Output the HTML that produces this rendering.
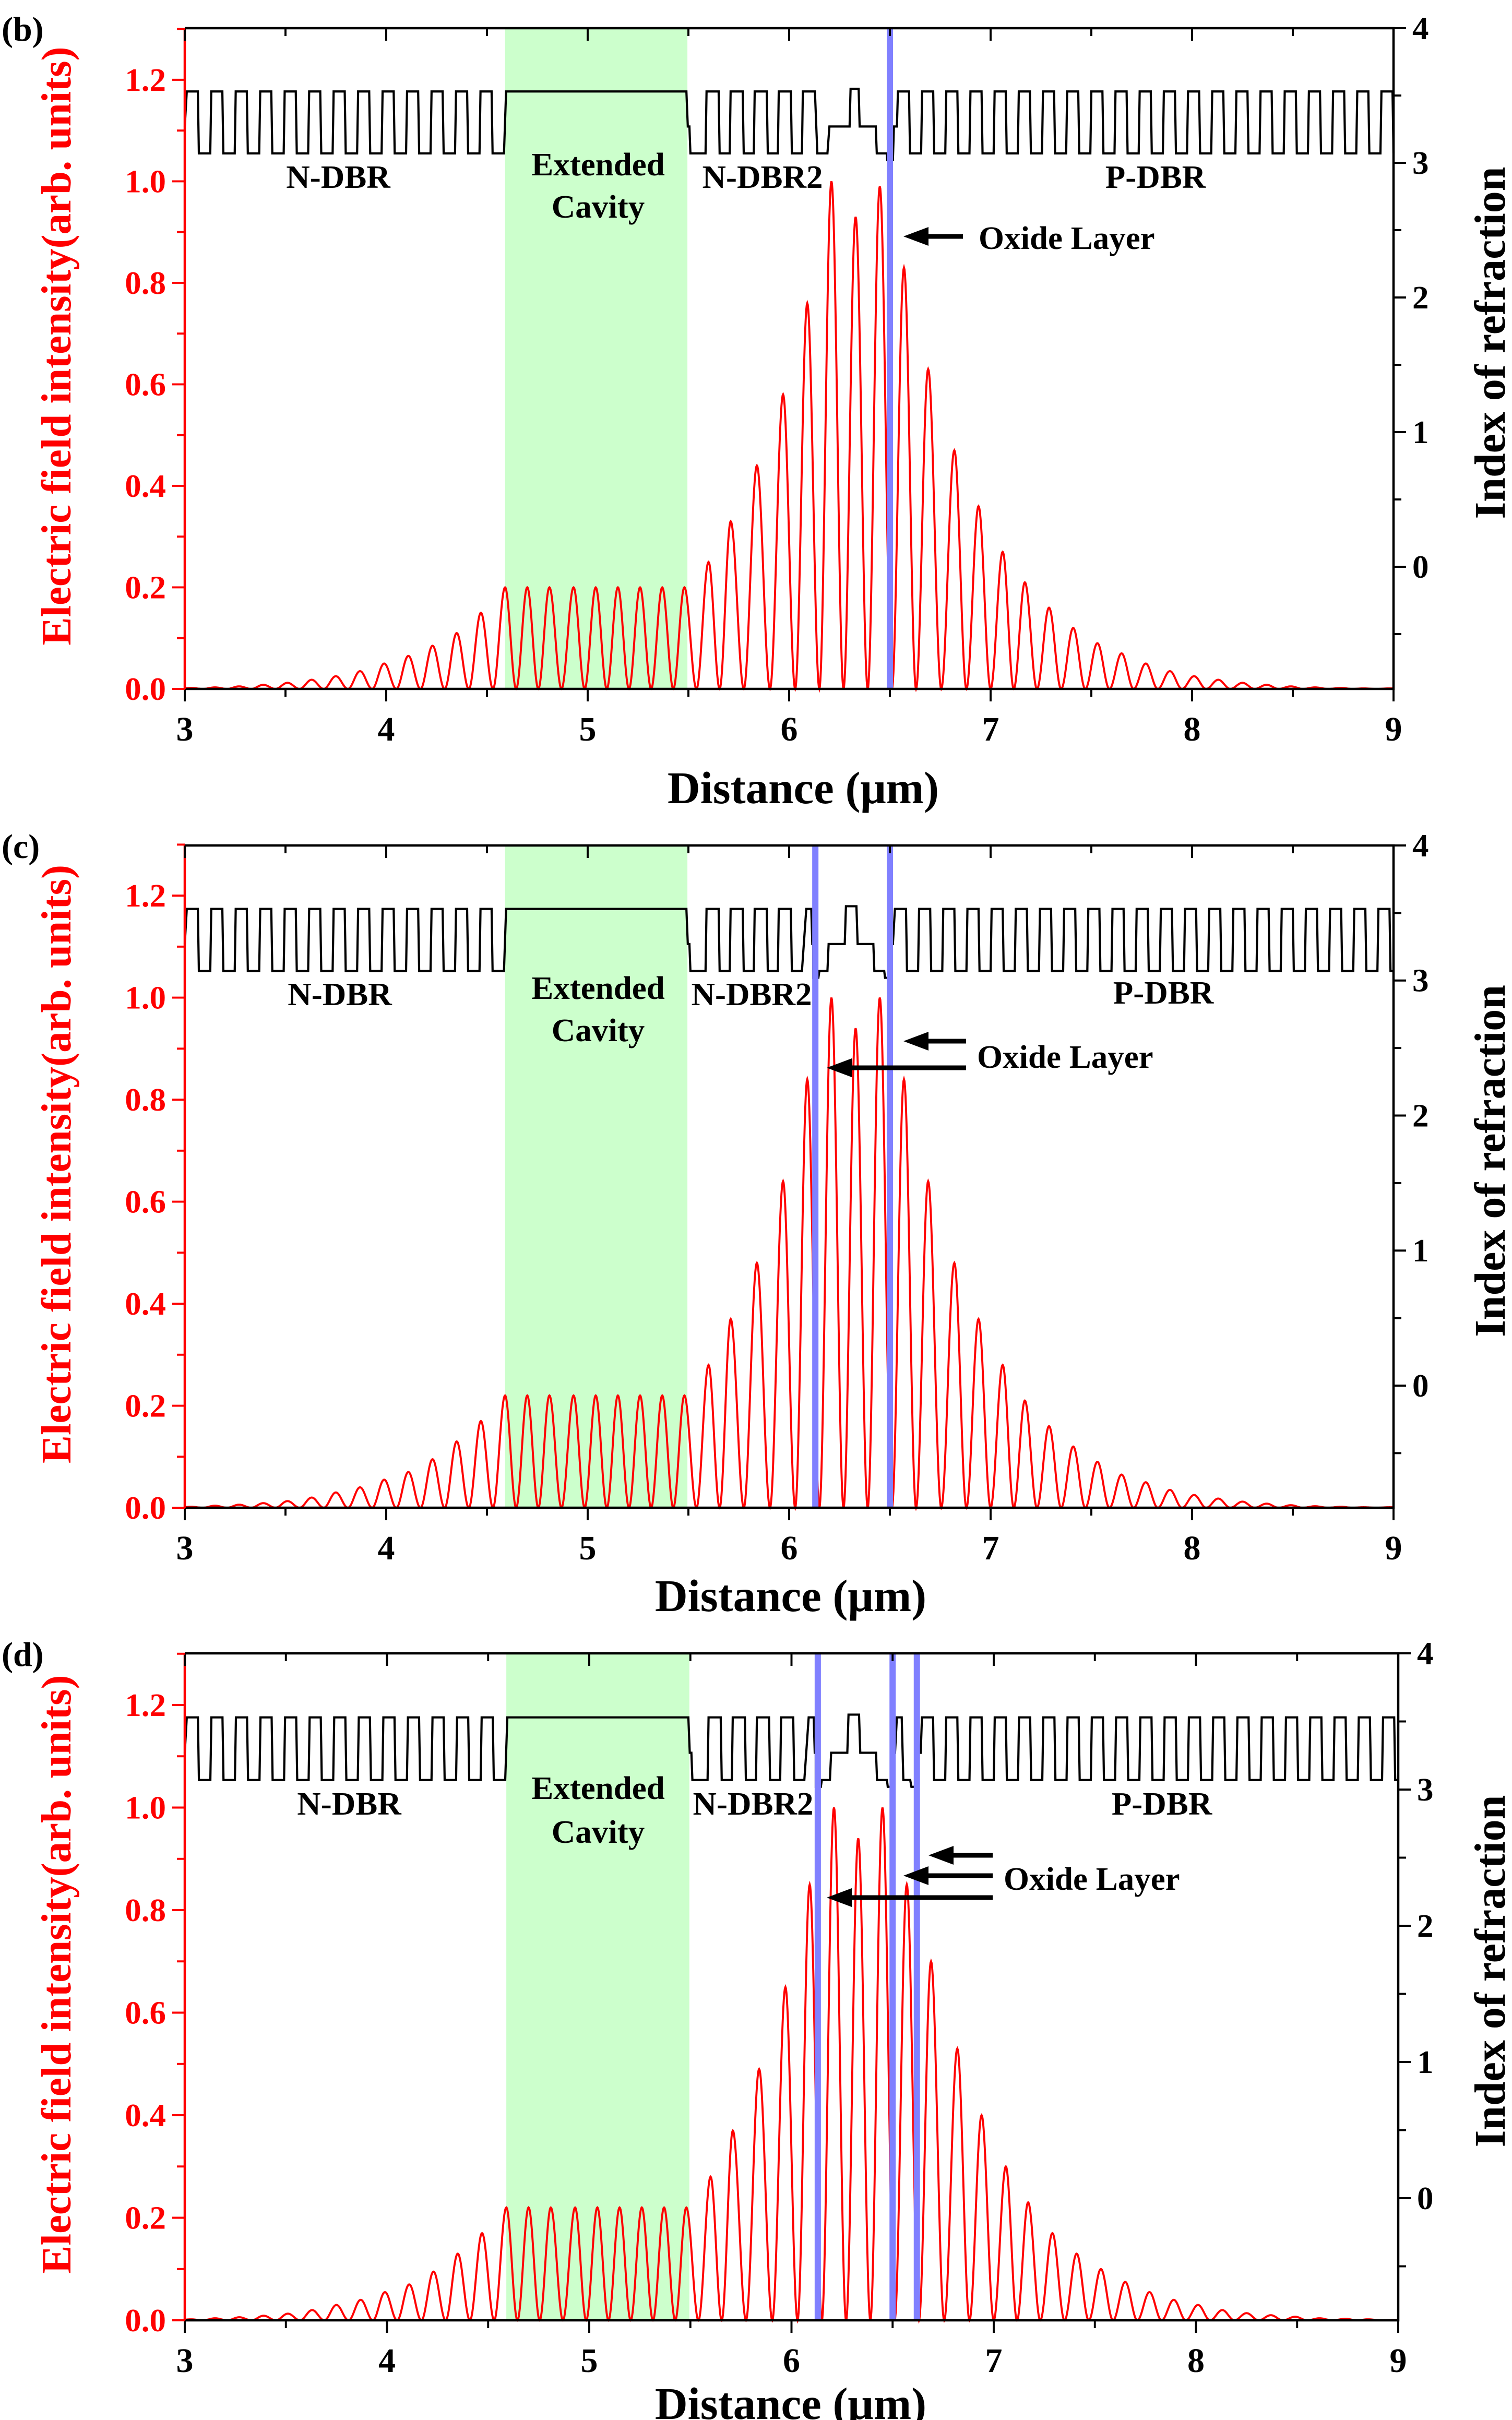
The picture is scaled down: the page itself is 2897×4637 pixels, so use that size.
<!DOCTYPE html>
<html><head><meta charset="utf-8">
<style>
html,body{margin:0;padding:0;background:#fff;}
svg{display:block;}
text{font-family:"Liberation Serif",serif;font-weight:bold;}
</style></head>
<body>
<svg id="fig" xmlns="http://www.w3.org/2000/svg" width="2897" height="4637" viewBox="0 0 965.667 1545.667"></svg>
<script>
// ---------- DATA ----------
const xTicks = [3,4,5,6,7,8,9];
const yTicks = [0.0,0.2,0.4,0.6,0.8,1.0,1.2];
const rTicks = [0,1,2,3,4];
const panelLabels = ["(b)","(c)","(d)"];
const peakX = [3.03,3.15,3.27,3.39,3.51,3.63,3.75,3.87,3.99,4.11,4.23,4.35,4.47,4.59,4.70,4.81,4.93,5.04,5.15,5.26,5.37,5.48,5.60,5.71,5.84,5.97,6.09,6.21,6.33,6.45,6.57,6.69,6.82,6.94,7.06,7.17,7.29,7.41,7.53,7.65,7.77,7.89,8.01,8.13,8.25,8.37,8.49,8.61,8.74,8.85,8.98];
const peakYb = [0.002,0.003,0.005,0.008,0.012,0.018,0.025,0.035,0.05,0.065,0.085,0.11,0.15,0.2,0.2,0.2,0.2,0.2,0.2,0.2,0.2,0.2,0.25,0.33,0.44,0.58,0.76,1.0,0.93,0.99,0.83,0.63,0.47,0.36,0.27,0.21,0.16,0.12,0.09,0.07,0.05,0.035,0.025,0.018,0.012,0.008,0.005,0.003,0.002,0.001,0.001];
const peakYc = [0.002,0.004,0.006,0.009,0.013,0.02,0.03,0.04,0.055,0.07,0.095,0.13,0.17,0.22,0.22,0.22,0.22,0.22,0.22,0.22,0.22,0.22,0.28,0.37,0.48,0.64,0.84,1.0,0.94,1.0,0.84,0.64,0.48,0.37,0.28,0.21,0.16,0.12,0.09,0.065,0.05,0.035,0.025,0.018,0.012,0.008,0.005,0.003,0.002,0.001,0.001];
const peakYd = [0.002,0.004,0.006,0.009,0.013,0.02,0.03,0.04,0.055,0.07,0.095,0.13,0.17,0.22,0.22,0.22,0.22,0.22,0.22,0.22,0.22,0.22,0.28,0.37,0.49,0.65,0.85,1.0,0.94,1.0,0.85,0.70,0.53,0.40,0.30,0.23,0.17,0.13,0.10,0.075,0.055,0.04,0.03,0.02,0.014,0.01,0.007,0.004,0.003,0.002,0.001];
const oxideB = [6.50];
const oxideC = [6.13,6.50];
const oxideD = [6.13,6.50,6.62];
const nHigh=3.53, nLow=3.07, nMid=3.27, nBump=3.55, nDip=3.02;
const activeB = [[6.14,6.19,nLow],[6.20,6.30,nMid],[6.305,6.345,nBump],[6.35,6.43,nMid],[6.435,6.485,nLow],[6.487,6.515,nDip],[6.52,6.535,nMid]];
const activeC = [[6.085,6.11,nHigh],[6.115,6.12,nMid],[6.12,6.145,nDip],[6.15,6.19,nLow],[6.196,6.276,nMid],[6.282,6.334,nBump],[6.34,6.418,nMid],[6.423,6.472,nLow],[6.476,6.50,nDip],[6.502,6.515,nMid]];
const activeD = [[6.085,6.11,nHigh],[6.115,6.12,nMid],[6.12,6.145,nDip],[6.15,6.19,nLow],[6.196,6.276,nMid],[6.282,6.334,nBump],[6.34,6.418,nMid],[6.423,6.472,nLow],[6.476,6.50,nDip],[6.502,6.512,nMid],[6.521,6.545,nHigh],[6.553,6.587,nLow],[6.593,6.622,nDip],[6.625,6.639,nMid]];
const pdbrStart = [6.54,6.525,6.645];
const ndbr2Highs = [5,5,5];

const panels = [
 {top:18,bottom:440,x0:118,x1:890,ky:324.2,r0:362,kr:86,peaks:peakYb,ox:oxideB,act:activeB,
  labels:[["N-DBR",216,120],["N-DBR2",487,120],["P-DBR",738,120]],ext:[382,112,139],oxT:[625,159],arrows:[[615,577,151]],xtitle:[513,513]},
 {top:540,bottom:963,x0:118,x1:890,ky:325.8,r0:885,kr:86.25,peaks:peakYc,ox:oxideC,act:activeC,
  labels:[["N-DBR",217,642],["N-DBR2",480,642],["P-DBR",743,641]],ext:[382,638,665],oxT:[624,682],arrows:[[617,577,665],[617,528,682]],xtitle:[505,1029]},
 {top:1056,bottom:1482,x0:118,x1:893,ky:327.5,r0:1404,kr:87,peaks:peakYd,ox:oxideD,act:activeD,
  labels:[["N-DBR",223,1159],["N-DBR2",481,1159],["P-DBR",742,1159]],ext:[382,1149,1177],oxT:[641,1207],arrows:[[634,593,1185],[634,577,1198],[634,528,1212]],xtitle:[505,1545]}
];
const NS="http://www.w3.org/2000/svg";
const svg=document.getElementById('fig');
function el(tag,attrs,parent){const e=document.createElementNS(NS,tag);for(const k in attrs)e.setAttribute(k,attrs[k]);(parent||svg).appendChild(e);return e;}

panels.forEach((P,pi)=>{
 const g=el('g',{});
 
 
 const X=v=>P.x0+(v-3)*(P.x1-P.x0)/6;
 const Y=v=>P.bottom-v*P.ky;
 const R=v=>P.r0-v*P.kr;
 const cav=el('rect',{x:X(4.59),y:P.top,width:X(5.495)-X(4.59),height:P.bottom-P.top,fill:'#ccffcc'},g);
 
 
 let pts=[];
 const px=peakX, py=P.peaks;
 for(let i=0;i<px.length;i++){
  const a=i>0?(px[i-1]+px[i])/2:px[i]-(px[i+1]-px[i])/2;
  const b=i<px.length-1?(px[i]+px[i+1])/2:px[i]+(px[i]-px[i-1])/2;
  for(let k=0;k<=24;k++){const x=a+(px[i]-a)*k/24;const t=(x-px[i])/(px[i]-a);pts.push([x,py[i]*Math.pow(Math.cos(Math.PI/2*t),2)]);}
  for(let k=1;k<=24;k++){const x=px[i]+(b-px[i])*k/24;const t=(x-px[i])/(b-px[i]);pts.push([x,py[i]*Math.pow(Math.cos(Math.PI/2*t),2)]);}
 }
 pts=pts.filter(p=>p[0]>=3&&p[0]<=9);
 const fl=el('path',{d:'M'+pts.map(p=>X(p[0]).toFixed(2)+','+Y(p[1]).toFixed(2)).join('L'),fill:'none',stroke:'#ff0000','stroke-width':1.3},g);
 
 
 const layers=[];
 let s=3.01;
 for(let i=0;i<13;i++){layers.push([s,s+0.055,nHigh]);layers.push([s+0.06,s+0.1165,nLow]);s+=0.1215;}
 layers.push([4.595,5.49,nHigh]);
 layers.push([5.497,5.505,nMid]);layers.push([5.51,5.585,nLow]);
 s=5.59;
 for(let i=0;i<ndbr2Highs[pi];i++){ if(pi>0&&i===ndbr2Highs[pi]-1)break; layers.push([s,s+0.06,nHigh]); if(i<ndbr2Highs[pi]-1) layers.push([s+0.065,s+0.115,nLow]); s+=0.1195;}
 P.act.forEach(l=>layers.push(l));
 s=pdbrStart[pi];
 while(s<9){layers.push([s,Math.min(s+0.055,9),nHigh]); if(s+0.06<9)layers.push([s+0.06,Math.min(s+0.115,9),nLow]); s+=0.12;}
 const lv=[[3.0,nMid]];
 layers.forEach(l=>{if(l[1]>l[0]){lv.push([l[0],l[2]]);lv.push([l[1],l[2]]);}});
 const ip=el('path',{d:'M'+lv.map(p=>X(p[0]).toFixed(2)+','+R(p[1]).toFixed(2)).join('L'),fill:'none',stroke:'#000','stroke-width':1.4},g);
 
 
 P.ox.forEach(o=>{const ln=el('line',{x1:X(o),x2:X(o),y1:P.top,y2:P.bottom,stroke:'#8080ff','stroke-width':4},g);
  
  });
 const fr=el('path',{d:`M${P.x0},${P.bottom}H${P.x1}V${P.top}H${P.x0}`,fill:'none',stroke:'#000','stroke-width':1.5},g);
 
 
 const la=el('line',{x1:P.x0,x2:P.x0,y1:P.top,y2:P.bottom,stroke:'#ff0000','stroke-width':1.5},g);
 
 
 for(let v=3;v<=9.001;v+=0.5){const major=Math.abs(v-Math.round(v))<0.01;const L=major?8:5;
  el('line',{x1:X(v),x2:X(v),y1:P.bottom,y2:P.bottom+L,stroke:'#000','stroke-width':1.3},g);
  el('line',{x1:X(v),x2:X(v),y1:P.top,y2:P.top+L,stroke:'#000','stroke-width':1.3},g);}
 xTicks.forEach(v=>{const t=el('text',{x:X(v),y:P.bottom+33,'font-size':22,'text-anchor':'middle'},g);t.textContent=v;
  
  });
 for(let i=0;i<=13;i++){const v=i*0.1;const L=i%2===0?8:5;el('line',{x1:P.x0-L,x2:P.x0,y1:Y(v),y2:Y(v),stroke:'#ff0000','stroke-width':1.3},g);}
 yTicks.forEach(v=>{const t=el('text',{x:P.x0-12,y:Y(v)+7,'font-size':21,'text-anchor':'end',fill:'#ff0000'},g);t.textContent=v.toFixed(1);
  
  });
 for(let i=-1;i<=8;i++){const v=i*0.5;if(R(v)>P.bottom)continue;const L=i%2===0?8:5;el('line',{x1:P.x1,x2:P.x1+L,y1:R(v),y2:R(v),stroke:'#000','stroke-width':1.3},g);}
 rTicks.forEach(v=>{const t=el('text',{x:P.x1+12,y:R(v)+7,'font-size':21,'text-anchor':'start'},g);t.textContent=v;
  
  });
 const cy=(P.top+P.bottom)/2;
 const yt=el('text',{x:0,y:0,'font-size':27,'text-anchor':'middle',fill:'#ff0000',transform:`translate(45,${cy-8}) rotate(-90)`},g);
 yt.textContent='Electric field intensity(arb. units)';
 
 
 const rt=el('text',{x:0,y:0,'font-size':28,'text-anchor':'middle',transform:`translate(961,${cy-10}) rotate(-90)`},g);
 rt.textContent='Index of refraction';
 
 
 const xt=el('text',{x:P.xtitle[0],y:P.xtitle[1],'font-size':29,'text-anchor':'middle'},g);
 xt.textContent='Distance (\u03bcm)';
 
 
 const pl=el('text',{x:1,y:P.top+8,'font-size':22},g);
 pl.textContent=panelLabels[pi];
 
 
 P.labels.forEach(L=>{const t=el('text',{x:L[1],y:L[2],'font-size':21,'text-anchor':'middle'},g);t.textContent=L[0];
  
  });
 const e1=el('text',{x:P.ext[0],y:P.ext[1],'font-size':21,'text-anchor':'middle'},g);e1.textContent='Extended';
 
 
 const e2=el('text',{x:P.ext[0],y:P.ext[2],'font-size':21,'text-anchor':'middle'},g);e2.textContent='Cavity';
 
 
 const ot=el('text',{x:P.oxT[0],y:P.oxT[1],'font-size':21},g);ot.textContent='Oxide Layer';
 
 
 P.arrows.forEach(A=>{const ag=el('g',{},g);
  
  
  el('line',{x1:A[0],x2:A[1]+10,y1:A[2],y2:A[2],stroke:'#000','stroke-width':3},ag);
  el('path',{d:`M${A[1]},${A[2]}L${A[1]+16},${A[2]-6}L${A[1]+16},${A[2]+6}Z`,fill:'#000'},ag);});
});
</script>
</body></html>
